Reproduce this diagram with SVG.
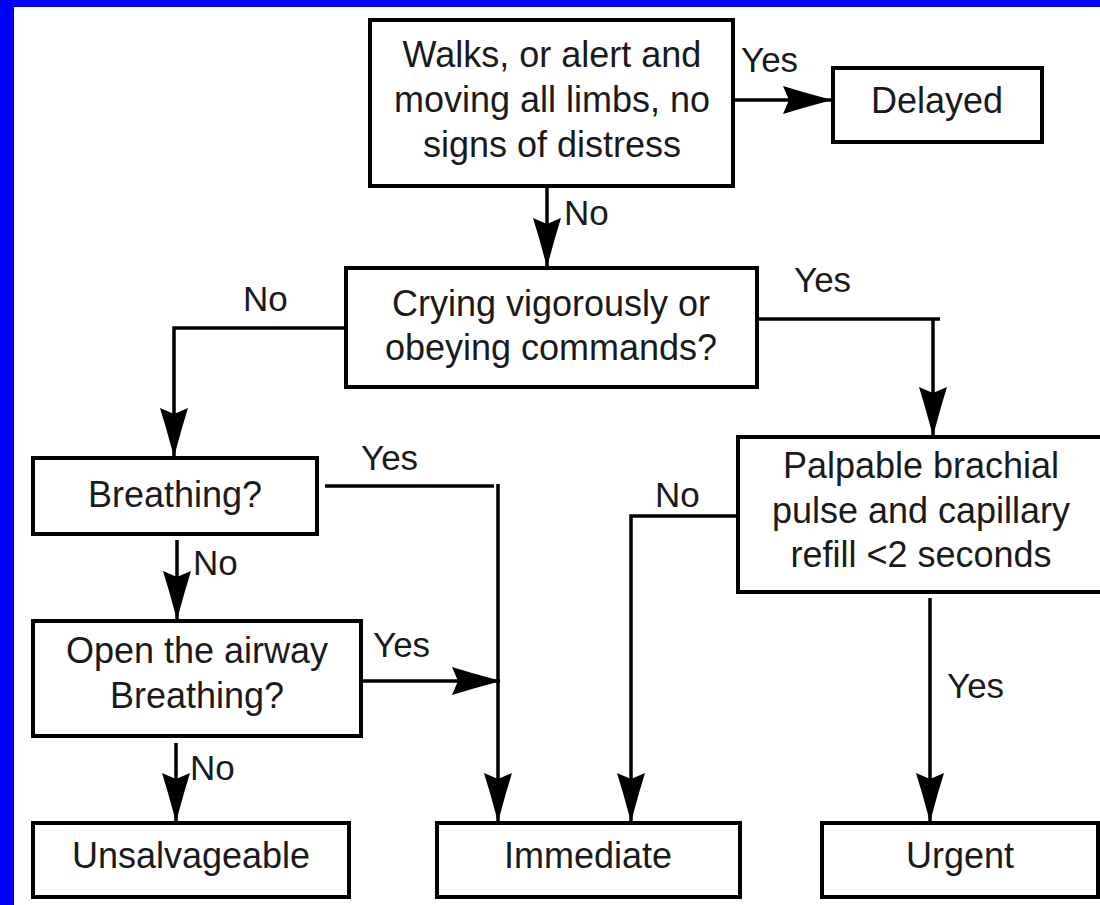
<svg xmlns="http://www.w3.org/2000/svg" width="1100" height="905" viewBox="0 0 1100 905">
<style>
.box{fill:#ffffff;stroke:#000;stroke-width:4}
.t{font-family:"Liberation Sans",Arial,sans-serif;font-size:36px;fill:#1a1a1a;text-anchor:middle}
.lbl{font-family:"Liberation Sans",Arial,sans-serif;font-size:35px;fill:#1a1a1a}
.c{fill:none;stroke:#000;stroke-width:3.5}
</style>
<defs>
<marker id="ah" markerUnits="userSpaceOnUse" markerWidth="60" markerHeight="40" viewBox="-52 -20 60 40" refX="0" refY="0" orient="auto">
<path d="M1,0 L-28,-8 L-48,-14 L-42,0 L-48,14 L-28,8 Z" fill="#000"/>
</marker>
</defs>
<rect x="0" y="0" width="1100" height="905" fill="#0000ff"/>
<rect x="14" y="7" width="1086" height="898" fill="#ffffff"/>

<g id="connectors">
<path class="c" d="M733,100 H831" marker-end="url(#ah)"/>
<path class="c" d="M547,186 V266" marker-end="url(#ah)"/>
<path class="c" d="M346,328 H174 V456" marker-end="url(#ah)"/>
<path class="c" d="M757,319 H940"/>
<path class="c" d="M933,319 V435" marker-end="url(#ah)"/>
<path class="c" d="M325,486 H494"/>
<path class="c" d="M498,484 V821" marker-end="url(#ah)"/>
<path class="c" d="M177,540 V619" marker-end="url(#ah)"/>
<path class="c" d="M355,681 H500" marker-end="url(#ah)"/>
<path class="c" d="M176,743 V821" marker-end="url(#ah)"/>
<path class="c" d="M738,516 H631 V821" marker-end="url(#ah)"/>
<path class="c" d="M930,598 V821" marker-end="url(#ah)"/>
<text class="lbl" x="741" y="72">Yes</text>
<text class="lbl" x="564" y="225">No</text>
<text class="lbl" x="243" y="311">No</text>
<text class="lbl" x="794" y="292">Yes</text>
<text class="lbl" x="361" y="470">Yes</text>
<text class="lbl" x="193" y="575">No</text>
<text class="lbl" x="373" y="657">Yes</text>
<text class="lbl" x="190" y="780">No</text>
<text class="lbl" x="655" y="507">No</text>
<text class="lbl" x="947" y="698">Yes</text>
</g>

<g id="walks">
<rect class="box" x="370" y="20" width="363" height="166"/>
<text class="t" x="552" y="67">Walks, or alert and</text>
<text class="t" x="552" y="112">moving all limbs, no</text>
<text class="t" x="552" y="157">signs of distress</text>
</g>
<g id="delayed">
<rect class="box" x="833" y="68" width="209" height="74"/>
<text class="t" x="937" y="113">Delayed</text>
</g>
<g id="crying">
<rect class="box" x="346" y="268" width="411" height="119"/>
<text class="t" x="551" y="316">Crying vigorously or</text>
<text class="t" x="551" y="360">obeying commands?</text>
</g>
<g id="breathing">
<rect class="box" x="33" y="458" width="284" height="76"/>
<text class="t" x="175" y="507">Breathing?</text>
</g>
<g id="palpable">
<rect class="box" x="738" y="437" width="380" height="155"/>
<text class="t" x="921" y="478">Palpable brachial</text>
<text class="t" x="921" y="523">pulse and capillary</text>
<text class="t" x="921" y="567">refill &lt;2 seconds</text>
</g>
<g id="airway">
<rect class="box" x="33" y="621" width="328" height="115"/>
<text class="t" x="197" y="663">Open the airway</text>
<text class="t" x="197" y="708">Breathing?</text>
</g>
<g id="unsalvageable">
<rect class="box" x="33" y="823" width="316" height="74"/>
<text class="t" x="191" y="868">Unsalvageable</text>
</g>
<g id="immediate">
<rect class="box" x="437" y="823" width="303" height="74"/>
<text class="t" x="588" y="868">Immediate</text>
</g>
<g id="urgent">
<rect class="box" x="822" y="823" width="276" height="74"/>
<text class="t" x="960" y="868">Urgent</text>
</g>
</svg>
